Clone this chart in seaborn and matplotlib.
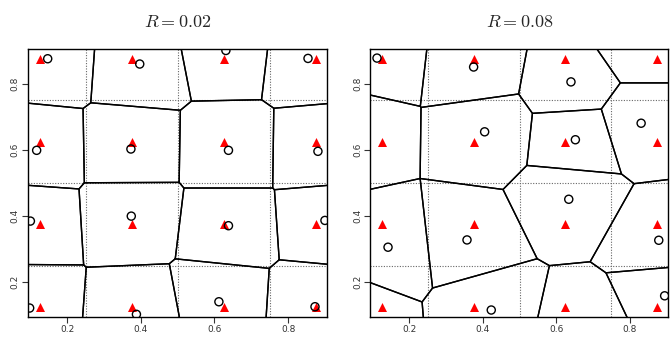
import numpy as np
import matplotlib
matplotlib.use("Agg")
import matplotlib.pyplot as plt
import seaborn as sns
import pandas as pd

# ---------------- data ----------------
grid_vals = [0.125, 0.375, 0.625, 0.875]          # regular lattice (red triangles)
cell_bounds = [0.25, 0.5, 0.75]                   # lattice Voronoi boundaries (dotted)
titles = ["$R = 0.02$", "$R = 0.08$"]
tick_vals = [0.2, 0.4, 0.6, 0.8]

# perturbed points, R = 0.02
r02_x = [0.147, 0.397, 0.631, 0.854, 0.117, 0.373, 0.638, 0.881,
         0.100, 0.374, 0.638, 0.900, 0.098, 0.388, 0.612, 0.873]
r02_y = [0.876, 0.860, 0.901, 0.877, 0.599, 0.603, 0.599, 0.596,
         0.385, 0.400, 0.371, 0.387, 0.122, 0.103, 0.141, 0.126]

# perturbed points, R = 0.08 (four lie outside the shown window)
r08_x = [0.112, 0.375, 0.640, 0.831, 0.057, 0.405, 0.652, 0.831,
         0.142, 0.357, 0.634, 0.879, 0.052, 0.423, 0.675, 0.895]
r08_y = [0.878, 0.851, 0.806, 0.925, 0.659, 0.655, 0.631, 0.681,
         0.306, 0.328, 0.451, 0.327, 0.089, 0.116, 0.065, 0.159]

XLIM = (0.094, 0.905)
YLIM = (0.095, 0.905)


# ---------------- Voronoi cells by half-plane clipping ----------------
def clip_halfplane(poly, g, q):
    m = (g + q) / 2.0
    d = q - g
    out = []
    n = len(poly)
    for i in range(n):
        a = poly[i]
        b = poly[(i + 1) % n]
        fa = np.dot(a - m, d)
        fb = np.dot(b - m, d)
        if fa <= 0:
            out.append(a)
        if (fa < 0 < fb) or (fb < 0 < fa):
            t = fa / (fa - fb)
            out.append(a + t * (b - a))
    return out


def voronoi_cells(xs, ys):
    pts = np.column_stack([xs, ys])
    cells = []
    for i, g in enumerate(pts):
        poly = [np.array(v, float) for v in [(0, 0), (1, 0), (1, 1), (0, 1)]]
        for j, q in enumerate(pts):
            if i != j:
                poly = clip_halfplane(poly, g, q)
        cells.append(np.array(poly))
    return cells


# ---------------- plotting ----------------
plt.rcParams["mathtext.fontset"] = "cm"
sns.set_style("ticks")
plt.rcParams["font.family"] = ["DejaVu Sans"]

fig = plt.figure(figsize=(6.71, 3.39), dpi=100)
ax_pos = [[0.042, 0.065, 0.445, 0.79], [0.552, 0.065, 0.444, 0.79]]

tri = pd.DataFrame([(x, y) for y in grid_vals for x in grid_vals], columns=["x", "y"])

for k, (xs, ys) in enumerate([(r02_x, r02_y), (r08_x, r08_y)]):
    ax = fig.add_axes(ax_pos[k])
    # lattice cell boundaries
    for b in cell_bounds:
        ax.axvline(b, color="#666666", lw=0.8, ls=(0, (1.0, 1.4)), zorder=1)
        ax.axhline(b, color="#666666", lw=0.8, ls=(0, (1.0, 1.4)), zorder=1)
    # Voronoi tessellation of perturbed points
    for cell in voronoi_cells(xs, ys):
        closed = np.vstack([cell, cell[:1]])
        ax.plot(closed[:, 0], closed[:, 1], color="black", lw=1.0, zorder=2,
                solid_joinstyle="miter")
    sns.scatterplot(data=tri, x="x", y="y", marker="^", color="red", s=42,
                    edgecolor="red", linewidth=0, ax=ax, zorder=3, clip_on=True)
    pts = pd.DataFrame({"x": xs, "y": ys})
    sns.scatterplot(data=pts, x="x", y="y", marker="o", facecolor="none",
                    edgecolor="black", linewidth=1.0, s=34, ax=ax, zorder=4)
    ax.set_xlim(*XLIM)
    ax.set_ylim(*YLIM)
    ax.set_xlabel("")
    ax.set_ylabel("")
    ax.set_xticks(tick_vals)
    ax.set_yticks(tick_vals)
    ax.set_xticklabels([f"{v:.1f}" for v in tick_vals], fontsize=6.5, color="#333333")
    ax.set_yticklabels([f"{v:.1f}" for v in tick_vals], fontsize=6.5, color="#333333",
                       rotation=90, va="center")
    ax.tick_params(length=4, width=0.8, color="#333333", pad=2)
    for s in ax.spines.values():
        s.set_visible(True)
        s.set_linewidth(1.0)
        s.set_color("black")
    ax.set_title(titles[k], fontsize=13, pad=16)

fig.savefig("out.png", dpi=100)
